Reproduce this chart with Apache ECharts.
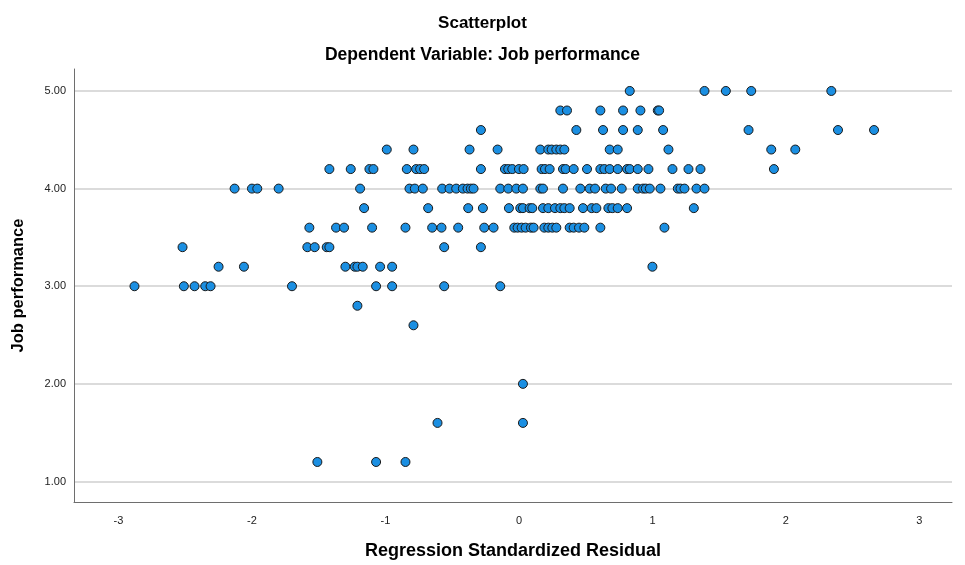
<!DOCTYPE html>
<html>
<head>
<meta charset="utf-8">
<script src="https://cdn.jsdelivr.net/npm/echarts@6/dist/echarts.min.js"></script>
<style>
  html, body { margin: 0; padding: 0; background: #fff; }
  #chart { width: 965px; height: 565px; }
</style>
</head>
<body>
<div id="chart"></div>
<script>
// Regression standardized residuals grouped by Job performance value
const perf_5_0 = [0.83, 1.39, 1.55, 1.74, 2.34];
const perf_4_8 = [0.31, 0.36, 0.61, 0.78, 0.91, 1.04, 1.05];
const perf_4_6 = [-0.285, 0.43, 0.63, 0.78, 0.89, 1.08, 1.72, 2.39, 2.66];
const perf_4_4 = [-0.99, -0.79, -0.37, -0.16, 0.16, 0.22, 0.245, 0.28, 0.31, 0.34, 0.68, 0.74, 1.12, 1.89, 2.07];
const perf_4_2 = [-1.42, -1.26, -1.12, -1.09, -0.84, -0.77, -0.74, -0.71, -0.285, -0.105, -0.08, -0.05, 0.00, 0.035,
                  0.17, 0.195, 0.23, 0.33, 0.35, 0.41, 0.51, 0.61, 0.64, 0.68, 0.74, 0.81, 0.83, 0.89, 0.97, 1.15, 1.27, 1.36, 1.91];
const perf_4_0 = [-2.13, -2.00, -1.96, -1.80, -1.19, -0.82, -0.78, -0.72, -0.575, -0.52, -0.47, -0.42, -0.385, -0.36, -0.34,
                  -0.14, -0.08, -0.02, 0.03, 0.16, 0.18, 0.33, 0.46, 0.53, 0.57, 0.65, 0.69, 0.77, 0.89, 0.93, 0.95, 0.98,
                  1.06, 1.19, 1.21, 1.24, 1.33, 1.39];
const perf_3_8 = [-1.16, -0.68, -0.38, -0.27, -0.075, 0.01, 0.03, 0.08, 0.10, 0.18, 0.22, 0.27, 0.31, 0.34, 0.38, 0.48,
                  0.545, 0.58, 0.67, 0.70, 0.74, 0.81, 1.31];
const perf_3_6 = [-1.57, -1.37, -1.31, -1.10, -0.85, -0.65, -0.58, -0.455, -0.26, -0.19, -0.035, -0.01, 0.02, 0.05, 0.09,
                  0.11, 0.19, 0.22, 0.25, 0.28, 0.38, 0.41, 0.45, 0.49, 0.61, 1.09];
const perf_3_4 = [-2.52, -1.585, -1.53, -1.44, -1.42, -0.56, -0.285];
const perf_3_2 = [-2.25, -2.06, -1.30, -1.23, -1.21, -1.17, -1.04, -0.95, 1.00];
const perf_3_0 = [-2.88, -2.51, -2.43, -2.35, -2.31, -1.70, -1.07, -0.95, -0.56, -0.14];
const perf_2_8 = [-1.21];
const perf_2_6 = [-0.79];
const perf_2_0 = [0.03];
const perf_1_6 = [-0.61, 0.03];
const perf_1_2 = [-1.51, -1.07, -0.85];

const perfLevels = [5.0, 4.8, 4.6, 4.4, 4.2, 4.0, 3.8, 3.6, 3.4, 3.2, 3.0, 2.8, 2.6, 2.0, 1.6, 1.2];
const residualGroups = [perf_5_0, perf_4_8, perf_4_6, perf_4_4, perf_4_2, perf_4_0, perf_3_8, perf_3_6,
                        perf_3_4, perf_3_2, perf_3_0, perf_2_8, perf_2_6, perf_2_0, perf_1_6, perf_1_2];

const xTicks = [-3, -2, -1, 0, 1, 2, 3];
const yTicks = [1, 2, 3, 4, 5];

const points = [];
residualGroups.forEach((grp, i) => grp.forEach(r => points.push([r, perfLevels[i]])));

const chart = echarts.init(document.getElementById('chart'), null, { renderer: 'canvas' });
const font = 'Liberation Sans, Arial, sans-serif';
chart.setOption({
  animation: false,
  backgroundColor: '#ffffff',
  title: [
    { text: 'Scatterplot', left: 'center', top: 10,
      textStyle: { fontFamily: font, fontSize: 17, fontWeight: 'bold', color: '#000' } },
    { text: 'Dependent Variable: Job performance', left: 'center', top: 41,
      textStyle: { fontFamily: font, fontSize: 17.5, fontWeight: 'bold', color: '#000' } }
  ],
  grid: { left: 74, right: 13, top: 69, bottom: 62 },
  xAxis: {
    type: 'value', min: -3.333, max: 3.244,
    name: 'Regression Standardized Residual', nameLocation: 'middle', nameGap: 40,
    nameTextStyle: { fontFamily: font, fontSize: 18, fontWeight: 'bold', color: '#000' },
    axisLine: { show: true, onZero: false, lineStyle: { color: '#6e6e6e', width: 1 } },
    axisTick: { show: false, customValues: xTicks },
    axisLabel: { customValues: xTicks, fontFamily: font, fontSize: 11, color: '#222', margin: 13 },
    splitLine: { show: false }
  },
  yAxis: {
    type: 'value', min: 0.79, max: 5.225,
    name: 'Job performance', nameLocation: 'middle', nameGap: 47,
    nameTextStyle: { fontFamily: font, fontSize: 16.5, fontWeight: 'bold', color: '#000' },
    axisLine: { show: true, onZero: false, lineStyle: { color: '#6e6e6e', width: 1 } },
    axisTick: { show: false, customValues: yTicks },
    axisLabel: { customValues: yTicks, fontFamily: font, fontSize: 11, color: '#222', margin: 8,
                 formatter: v => Number(v).toFixed(2) },
    splitLine: { show: true, lineStyle: { color: '#cfcfcf', width: 1.5 } }
  },
  series: [{
    type: 'scatter',
    data: points,
    symbol: 'circle',
    symbolSize: 9,
    itemStyle: { color: '#1b8fe2', borderColor: '#1a1a1a', borderWidth: 1, opacity: 1 }
  }]
});
</script>
</body>
</html>
